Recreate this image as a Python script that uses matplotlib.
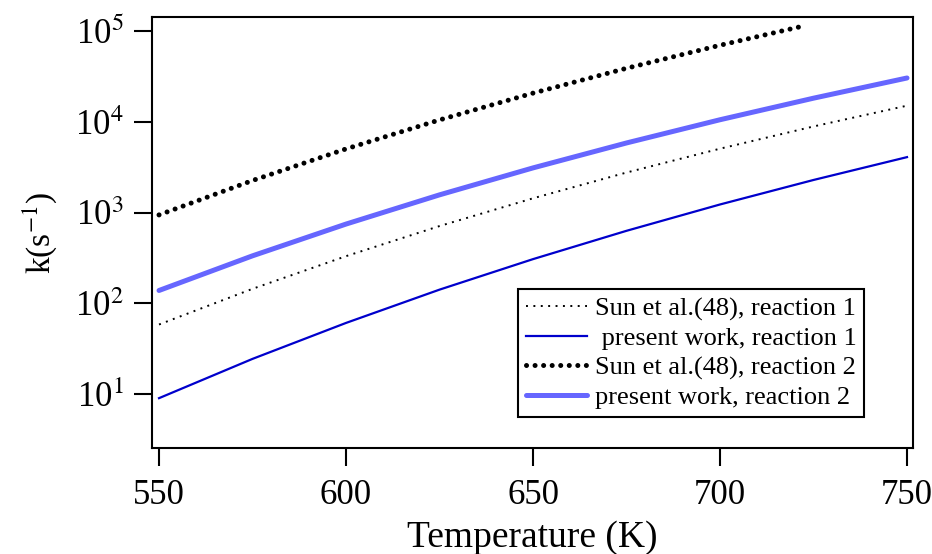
import matplotlib
matplotlib.use('Agg')
import matplotlib.pyplot as plt
import numpy as np
from matplotlib.ticker import FixedLocator, NullLocator

plt.rcParams['font.family'] = ['Liberation Serif', 'DejaVu Serif']
plt.rcParams['mathtext.fontset'] = 'stix'

# temperatures (K) and rate constants (s^-1)
T = [550, 575, 600, 625, 650, 675, 700, 725, 750]
T_sun2 = [550, 575, 600, 625, 650, 675, 700, 722]

sun_r1 = [58.6, 145, 332, 713, 1442, 2773, 5080, 8930, 15130]
present_r1 = [9.04, 24.5, 61, 142, 308, 632, 1233, 2296, 4100]
sun_r2 = [946, 2265, 5050, 10540, 20800, 39100, 70100, 113500]
present_r2 = [139, 335, 750, 1574, 3120, 5875, 10590, 18300, 30550]

fig = plt.figure(figsize=(9.32, 5.54), dpi=100)
ax = fig.add_axes([0.163, 0.191, 0.817, 0.778])

ax.plot(T, sun_r1, color='black', linewidth=1.4,
        linestyle=(0, (1, 2.8)), label='Sun et al.(48), reaction 1')
ax.plot(T, present_r1, color='#0000cc', linewidth=1.6,
        label=' present work, reaction 1')
ax.plot(T_sun2, sun_r2, color='black', linewidth=3.6,
        linestyle=(0, (0.01, 1.7)), dash_capstyle='round',
        label='Sun et al.(48), reaction 2')
ax.plot(T, present_r2, color='#6666ff', linewidth=3.6,
        solid_capstyle='round', label='present work, reaction 2')

ax.set_yscale('log')
ax.set_xlim(548.1, 751.7)
ax.set_ylim(2.54, 1.43e5)

ax.yaxis.set_major_locator(FixedLocator([1e1, 1e2, 1e3, 1e4, 1e5]))
ax.yaxis.set_minor_locator(NullLocator())
ax.set_yticklabels(['10$^{%d}$' % i for i in range(1, 6)])
ax.set_xticks([550, 600, 650, 700, 750])

for s in ax.spines.values():
    s.set_linewidth(1.5)
ax.tick_params(axis='both', which='major', direction='out', length=13,
               width=1.5, labelsize=25)
ax.tick_params(axis='x', pad=9)
ax.tick_params(axis='y', pad=7)

ax.set_xlabel('Temperature (K)', fontsize=27, labelpad=6)
ax.set_ylabel('k(s$^{-1}$)', fontsize=24, labelpad=12)

leg = ax.legend(loc='lower left', bbox_to_anchor=(0.481, 0.072),
                fontsize=19, frameon=True, fancybox=False,
                edgecolor='black', framealpha=1, handlelength=2.3,
                handletextpad=0.3, borderpad=0.3, labelspacing=0.22,
                borderaxespad=0)
leg.get_frame().set_linewidth(1.5)

plt.savefig('out.png', dpi=100)
